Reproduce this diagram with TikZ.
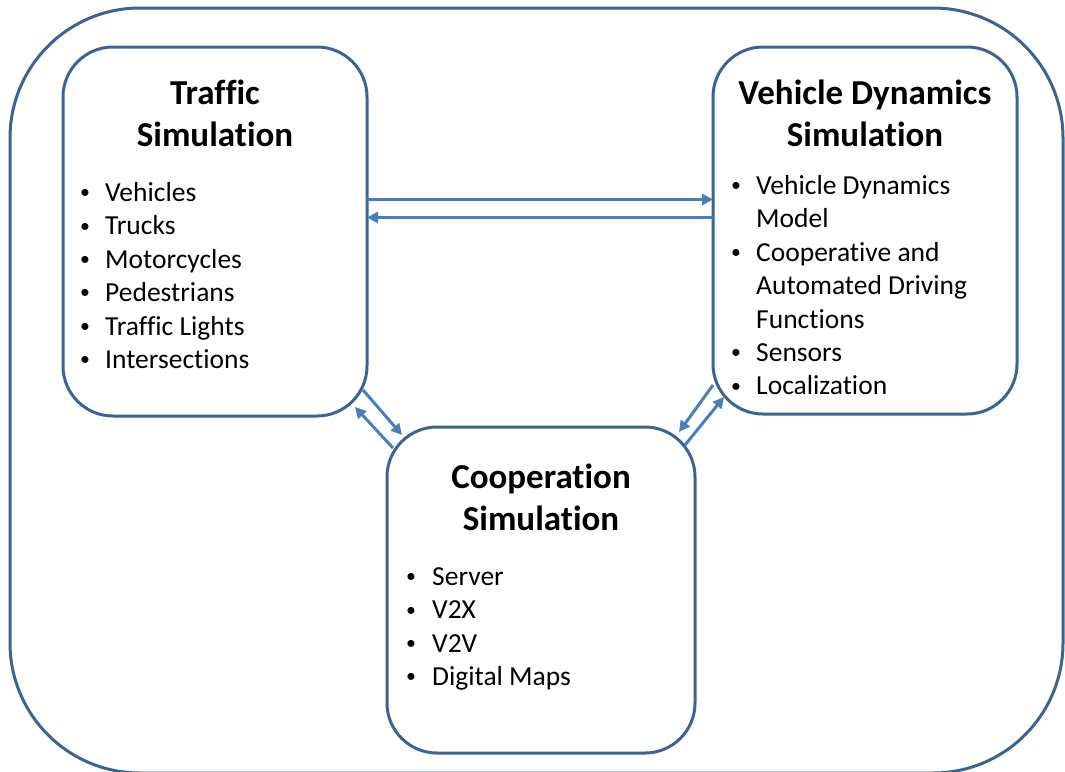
\documentclass[tikz,border=0pt]{standalone}
\usepackage{fontspec}
\setmainfont{Carlito}[Ligatures=NoCommon]
\usetikzlibrary{arrows.meta,calc}
\definecolor{framecol}{HTML}{3B6493}
\definecolor{arrowblue}{HTML}{4A7EBB}
\newcommand{\smallbul}{\raisebox{0.1em}{\scalebox{0.72}{\textbullet}}}
\begin{document}
\begin{tikzpicture}[x=1pt,y=-1pt,
  box/.style={draw=framecol,line width=3pt,rounded corners=50pt,fill=white,inner sep=0pt,outer sep=0pt},
  arr/.style={draw=arrowblue,line width=3pt,-{Triangle[length=11pt,width=11pt]}},
  titletext/.style={anchor=base,inner sep=0pt,font=\fontsize{35}{42.5}\selectfont\bfseries},
  listtext/.style={anchor=base west,inner sep=0pt,font=\fontsize{27.5}{33.4}\selectfont}]
\useasboundingbox (0,0) rectangle (1065,771);
\clip (0,0) rectangle (1065,771);
\node[box,rounded corners=130pt,minimum width=1053pt,minimum height=765pt] (outer) at (536.5,390.5) {};
\node[box,minimum width=304pt,minimum height=369pt] (traffic) at (215,231.5) {};
\node[box,minimum width=304pt,minimum height=367pt] (vehicle) at (865,230.5) {};
\node[box,minimum width=308pt,minimum height=326pt] (coop) at (541,590) {};
% titles
\node[titletext] (ttitle) at (215,104) {\begin{tabular}[t]{@{}c@{}}Traffic\\Simulation\end{tabular}};
\node[titletext] (vtitle) at (865,104) {\begin{tabular}[t]{@{}c@{}}Vehicle Dynamics\\Simulation\end{tabular}};
\node[titletext] (ctitle) at (541,488) {\begin{tabular}[t]{@{}c@{}}Cooperation\\Simulation\end{tabular}};
% lists
\node[listtext] (tlist) at (80,201.5) {\begin{tabular}[t]{@{}p{25pt}@{}l@{}}
\smallbul & Vehicles\\
\smallbul & Trucks\\
\smallbul & Motorcycles\\
\smallbul & Pedestrians\\
\smallbul & Traffic Lights\\
\smallbul & Intersections
\end{tabular}};
\node[listtext] (vlist) at (731,194.5) {\begin{tabular}[t]{@{}p{25pt}@{}l@{}}
\smallbul & Vehicle Dynamics\\
 & Model\\
\smallbul & Cooperative and\\
 & Automated Driving\\
 & Functions\\
\smallbul & Sensors\\
\smallbul & Localization
\end{tabular}};
\node[listtext] (clist) at (406,585.5) {\begin{tabular}[t]{@{}p{26pt}@{}l@{}}
\smallbul & Server\\
\smallbul & V2X\\
\smallbul & V2V\\
\smallbul & Digital Maps
\end{tabular}};
% connectors
\draw[arr] ([yshift=32pt]traffic.east) -- ([yshift=32pt]traffic.east -| vehicle.west);
\draw[arr] ([yshift=13pt]vehicle.west) -- ([yshift=13pt]vehicle.west -| traffic.east);
\draw[arr] ($(traffic.south east)+(-4,-26)$) -- ($(coop.north west)+(15,8)$);
\draw[arr] ($(coop.north west)+(6,21)$) -- ($(traffic.south east)+(-12,-9)$);
\draw[arr] ($(vehicle.south west)+(0,-29)$) -- ($(coop.north east)+(-16,5)$);
\draw[arr] ($(coop.north east)+(-10,18)$) -- ($(vehicle.south west)+(11,-17)$);
\end{tikzpicture}
\end{document}
